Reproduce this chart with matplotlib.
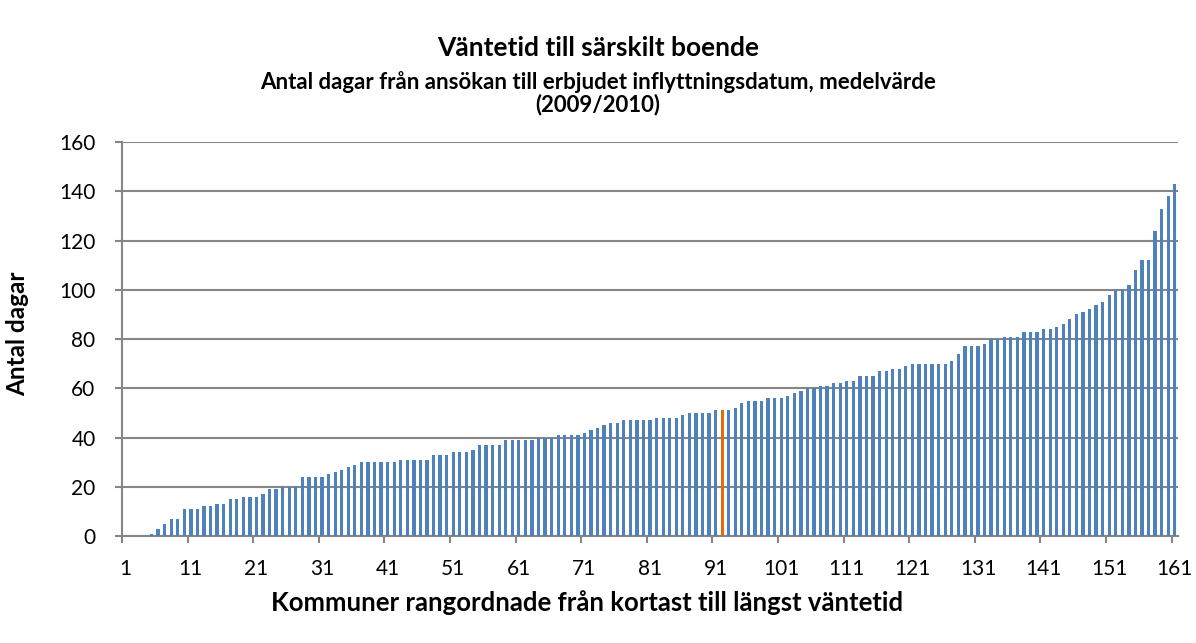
import matplotlib
matplotlib.use("Agg")
import matplotlib.pyplot as plt
import matplotlib.transforms as mtransforms
import numpy as np

plt.rcParams['font.family'] = ['Lato', 'DejaVu Sans']

# waiting time (days) per municipality, sorted from shortest to longest
days = [
    0, 0, 0, 0, 1, 3, 5, 7, 7, 11,
    11, 11, 12, 12, 13, 13, 15, 15, 16, 16,
    16, 17, 19, 19, 20, 20, 20, 24, 24, 24,
    24, 25, 26, 27, 28, 29, 30, 30, 30, 30,
    30, 30, 31, 31, 31, 31, 31, 33, 33, 33,
    34, 34, 34, 35, 37, 37, 37, 37, 39, 39,
    39, 39, 39, 40, 40, 40, 41, 41, 41, 41,
    42, 43, 44, 45, 46, 46, 47, 47, 47, 47,
    47, 48, 48, 48, 48, 49, 50, 50, 50, 50,
    51, 51, 51, 52, 54, 55, 55, 55, 56, 56,
    56, 57, 58, 59, 60, 60, 61, 61, 62, 62,
    63, 63, 65, 65, 65, 67, 67, 68, 68, 69,
    70, 70, 70, 70, 70, 70, 71, 74, 77, 77,
    77, 78, 80, 80, 81, 81, 81, 83, 83, 83,
    84, 84, 85, 86, 88, 90, 91, 92, 94, 95,
    98, 100, 100, 102, 108, 112, 112, 124, 133, 138,
    143,
]
highlight = 92  # rank of the highlighted municipality
tick_labels = list(range(1, 162, 10))

ranks = np.arange(1, len(days) + 1)
colors = ['#E36C09' if r == highlight else '#4F81BD' for r in ranks]

fig = plt.figure(figsize=(11.96, 6.43), dpi=100)
ax = fig.add_axes([0.102, 0.1664, 0.883, 0.6127])

ax.bar(ranks, days, width=0.5, color=colors, zorder=3)

ax.set_xlim(0.5, len(days) + 0.5)
ax.set_ylim(0, 160)
ax.set_yticks(range(0, 161, 20))
ax.grid(axis='y', color='#868686', linewidth=1.5, zorder=0)

ax.set_xticks(tick_labels)
ax.set_xticklabels([str(t) for t in tick_labels])
# last label nudged left so it stays inside the figure
last = ax.get_xticklabels()[-1]
last.set_transform(last.get_transform() + mtransforms.ScaledTranslation(-0.11, 0, fig.dpi_scale_trans))
ax.set_xticks(np.arange(0.5, len(days) + 1, 10), minor=True)
ax.tick_params(axis='x', which='major', length=0, pad=16.5, labelsize=15)
ax.tick_params(axis='x', which='minor', length=5, width=1.5, color='#868686')
ax.tick_params(axis='y', length=5, width=1.5, color='#868686', labelsize=15, pad=14)

for s in ['top', 'right']:
    ax.spines[s].set_visible(False)
for s in ['left', 'bottom']:
    ax.spines[s].set_color('#868686')
    ax.spines[s].set_linewidth(1.5)

fig.text(18 / 1196, 1 - 334 / 643, 'Antal dagar', rotation=90, ha='center', va='center',
         fontsize=17.5, fontweight='bold')
fig.text(587 / 1196, 1 - 603 / 643, 'Kommuner rangordnade från kortast till längst väntetid',
         ha='center', va='center', fontsize=18.5, fontweight='bold')

fig.text(0.5, 0.925, 'Väntetid till särskilt boende', ha='center', va='center',
         fontsize=19, fontweight='bold')
fig.text(0.5, 0.873, 'Antal dagar från ansökan till erbjudet inflyttningsdatum, medelvärde',
         ha='center', va='center', fontsize=16, fontweight='bold')
fig.text(0.5, 0.838, '(2009/2010)', ha='center', va='center',
         fontsize=16, fontweight='bold')

fig.savefig('out.png', dpi=100)
